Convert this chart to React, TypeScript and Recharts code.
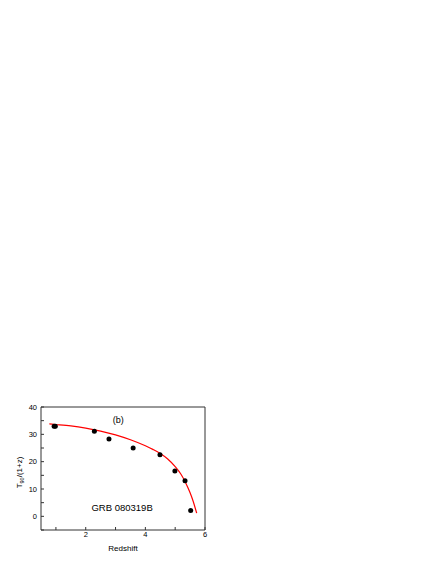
import React from "react";
import {
  ComposedChart,
  Line,
  Scatter,
  XAxis,
  YAxis,
  ReferenceDot,
} from "recharts";

// measured GRB 080319B points
const redshift = [0.94, 0.98, 2.29, 2.78, 3.59, 4.49, 4.99, 5.33, 5.52];
const duration = [33.0, 33.0, 31.1, 28.3, 25.0, 22.5, 16.6, 13.0, 2.1];

// fitted curve
const fitZ = [0.78, 1.0, 1.5, 2.0, 2.5, 3.0, 3.5, 4.0, 4.25, 4.5, 4.75, 5.0, 5.2, 5.35, 5.5, 5.6, 5.72];
const fitT = [33.8, 33.6, 33.1, 32.3, 31.2, 29.8, 28.0, 25.8, 24.5, 23.0, 21.0, 18.2, 15.3, 12.3, 8.6, 5.6, 1.2];

const xTicks = [1, 2, 3, 4, 5, 6];
const yTicks = [-5, 0, 5, 10, 15, 20, 25, 30, 35, 40];
const xLabels = [2, 4, 6];
const yLabels = [0, 10, 20, 30, 40];

const points = redshift.map((z, i) => ({ z, t: duration[i] }));
const fit = fitZ.map((z, i) => ({ z, fit: fitT[i] }));

const font = "Arial, 'Liberation Sans', sans-serif";
const axisColor = "#333";
const tickStyle = { fontSize: 7.5, fill: "#000", fontFamily: font };

function YTitle(props: any) {
  const vb = props.viewBox;
  const cx = vb.x + 22;
  const cy = vb.y + vb.height / 2 + 4;
  return (
    <text
      x={cx}
      y={cy}
      transform={`rotate(-90 ${cx} ${cy})`}
      textAnchor="middle"
      fontFamily={font}
      fontSize={8}
      fill="#000"
    >
      T<tspan fontSize={5.5} dy={2}>90</tspan>
      <tspan dy={-2}>/(1+z)</tspan>
    </text>
  );
}

export default function App() {
  return (
    <div style={{ position: "absolute", left: 0, top: 0 }}>
      <ComposedChart
        width={436}
        height={564}
        margin={{ top: 407, right: 231, bottom: 14, left: 0 }}
      >
        <XAxis
          xAxisId={0}
          dataKey="z"
          type="number"
          domain={[0.5, 6]}
          ticks={xTicks}
          tickFormatter={(v) => (xLabels.includes(v) ? String(v) : "")}
          height={20}
          tickSize={-3}
          tickMargin={5}
          stroke={axisColor}
          tick={tickStyle}
          allowDataOverflow
          label={{
            value: "Redshift",
            position: "insideBottom",
            offset: -1,
            style: { fontSize: 8, fontFamily: font, fill: "#000" },
          }}
        />
        <XAxis
          xAxisId="top"
          orientation="top"
          dataKey="z"
          type="number"
          domain={[0.5, 6]}
          ticks={xTicks}
          height={1}
          mirror
          tickSize={3}
          tick={false}
          stroke={axisColor}
        />
        <YAxis
          yAxisId={0}
          type="number"
          domain={[-5, 40]}
          ticks={yTicks}
          tickFormatter={(v) => (yLabels.includes(v) ? String(v) : "")}
          width={41}
          tickSize={-3}
          tickMargin={7}
          stroke={axisColor}
          tick={tickStyle}
          allowDataOverflow
          label={{ content: YTitle }}
        />
        <YAxis
          yAxisId="right"
          orientation="right"
          type="number"
          domain={[-5, 40]}
          ticks={yTicks}
          width={1}
          mirror
          tickSize={3}
          tick={false}
          stroke={axisColor}
        />
        <Line
          data={fit}
          dataKey="fit"
          type="monotone"
          stroke="#ff0000"
          strokeWidth={1.2}
          dot={false}
          isAnimationActive={false}
        />
        <Scatter
          data={points}
          dataKey="t"
          fill="#000"
          shape={(p: any) => <circle cx={p.cx} cy={p.cy} r={2.5} fill="#000" />}
          isAnimationActive={false}
        />
        <ReferenceDot
          x={3.09}
          y={35.4}
          r={0}
          ifOverflow="visible"
          label={{
            value: "(b)",
            position: "center",
            style: { fontSize: 9, fontFamily: font, fill: "#000" },
          }}
        />
        <ReferenceDot
          x={3.22}
          y={3.2}
          r={0}
          ifOverflow="visible"
          label={{
            value: "GRB 080319B",
            position: "center",
            style: { fontSize: 9.5, fontFamily: font, fill: "#000" },
          }}
        />
      </ComposedChart>
    </div>
  );
}
